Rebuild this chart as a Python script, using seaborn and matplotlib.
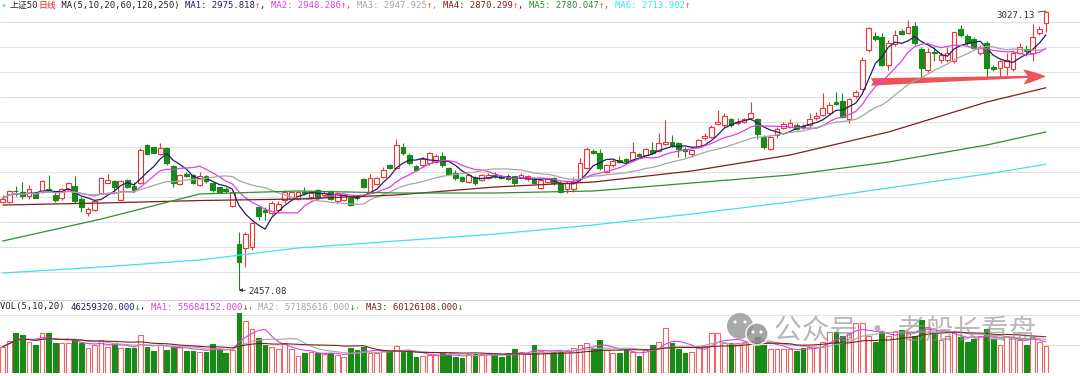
import numpy as np
import pandas as pd
import matplotlib
matplotlib.use("Agg")
import matplotlib.pyplot as plt
import seaborn as sns
from matplotlib.patches import Circle

# daily candles of 上证50, oldest first
opens = [2637, 2637, 2660, 2658, 2649, 2656, 2658, 2663, 2651, 2646,
         2663, 2670, 2644, 2614, 2620, 2655, 2676, 2680, 2642, 2682,
         2670, 2675, 2753, 2749, 2734, 2747, 2710, 2674, 2695, 2692,
         2672, 2690, 2675, 2667, 2664, 2629, 2551, 2542, 2544, 2626,
         2620, 2614, 2621, 2641, 2644, 2644, 2658, 2648, 2661, 2651,
         2659, 2638, 2641, 2646, 2647, 2683, 2658, 2674, 2687, 2712,
         2706, 2750, 2733, 2710, 2712, 2716, 2719, 2731, 2706, 2697,
         2687, 2678, 2687, 2682, 2685, 2692, 2690, 2690, 2689, 2687,
         2683, 2685, 2665, 2678, 2685, 2676, 2663, 2663, 2683, 2706,
         2742, 2738, 2699, 2712, 2723, 2724, 2723, 2735, 2733, 2744,
         2742, 2755, 2760, 2757, 2746, 2735, 2750, 2767, 2770, 2796,
         2794, 2806, 2798, 2801, 2808, 2806, 2770, 2746, 2774, 2789,
         2791, 2794, 2792, 2794, 2808, 2815, 2818, 2842, 2844, 2806,
         2853, 2867, 2947, 2976, 2975, 2917, 2960, 2987, 2983, 2996,
         2949, 2907, 2944, 2928, 2927, 2924, 2990, 2976, 2969, 2941,
         2961, 2913, 2910, 2913, 2908, 2942, 2950, 2941, 2982, 3003]
closes = [2644, 2659, 2659, 2649, 2663, 2646, 2680, 2661, 2641, 2663,
          2676, 2638, 2627, 2622, 2638, 2685, 2682, 2668, 2680, 2668,
          2661, 2743, 2735, 2738, 2747, 2716, 2675, 2692, 2690, 2675,
          2690, 2680, 2661, 2658, 2659, 2658, 2515, 2572, 2595, 2608,
          2617, 2634, 2633, 2658, 2657, 2658, 2656, 2656, 2646, 2656,
          2644, 2655, 2651, 2631, 2645, 2668, 2685, 2685, 2702, 2706,
          2753, 2736, 2716, 2702, 2724, 2736, 2731, 2712, 2695, 2685,
          2680, 2692, 2675, 2692, 2693, 2689, 2686, 2683, 2675, 2693,
          2690, 2676, 2682, 2683, 2676, 2658, 2675, 2678, 2717, 2746,
          2738, 2706, 2712, 2721, 2719, 2720, 2740, 2731, 2746, 2736,
          2757, 2760, 2753, 2746, 2742, 2743, 2763, 2772, 2791, 2801,
          2813, 2794, 2801, 2806, 2818, 2776, 2750, 2770, 2787, 2796,
          2799, 2787, 2790, 2806, 2813, 2828, 2835, 2838, 2811, 2847,
          2862, 2928, 2992, 2969, 2917, 2961, 2978, 2980, 2995, 2961,
          2910, 2944, 2941, 2937, 2942, 2984, 2978, 2961, 2951, 2953,
          2910, 2908, 2924, 2927, 2942, 2954, 2946, 2975, 2990, 3026]
highs = [2651, 2661, 2670, 2678, 2671, 2658, 2682, 2692, 2658, 2665,
         2678, 2689, 2648, 2626, 2641, 2687, 2694, 2682, 2682, 2683,
         2678, 2747, 2755, 2750, 2757, 2750, 2712, 2694, 2699, 2694,
         2699, 2692, 2678, 2668, 2667, 2660, 2576, 2576, 2597, 2629,
         2626, 2638, 2638, 2661, 2660, 2660, 2668, 2660, 2664, 2659,
         2662, 2658, 2654, 2650, 2650, 2685, 2695, 2688, 2709, 2714,
         2765, 2757, 2736, 2712, 2729, 2740, 2735, 2740, 2709, 2702,
         2689, 2695, 2690, 2695, 2697, 2699, 2693, 2695, 2691, 2697,
         2693, 2688, 2684, 2686, 2688, 2679, 2680, 2688, 2726, 2750,
         2746, 2746, 2714, 2724, 2731, 2727, 2760, 2738, 2748, 2760,
         2777, 2804, 2774, 2760, 2750, 2746, 2766, 2777, 2794, 2825,
         2818, 2809, 2808, 2809, 2842, 2808, 2774, 2774, 2791, 2801,
         2806, 2799, 2796, 2818, 2821, 2859, 2842, 2862, 2859, 2849,
         2866, 2934, 2995, 2985, 2982, 2968, 2988, 2990, 3009, 3005,
         2954, 2951, 2954, 2944, 2954, 2985, 2999, 2981, 2973, 2958,
         2965, 2917, 2927, 2941, 2948, 2962, 2958, 3001, 2996, 3027.13]
lows = [2634, 2635, 2649, 2644, 2644, 2645, 2656, 2658, 2636, 2642,
        2660, 2634, 2617, 2608, 2619, 2653, 2675, 2658, 2641, 2665,
        2658, 2674, 2733, 2736, 2733, 2712, 2668, 2672, 2687, 2673,
        2670, 2676, 2658, 2656, 2656, 2627, 2457.08, 2505, 2539, 2600,
        2600, 2610, 2615, 2634, 2641, 2642, 2651, 2645, 2642, 2648,
        2640, 2635, 2638, 2628, 2640, 2665, 2655, 2672, 2685, 2704,
        2704, 2733, 2713, 2700, 2709, 2712, 2717, 2709, 2692, 2682,
        2678, 2676, 2672, 2680, 2683, 2685, 2683, 2681, 2672, 2685,
        2680, 2673, 2663, 2675, 2672, 2655, 2656, 2658, 2679, 2704,
        2735, 2702, 2696, 2709, 2716, 2717, 2719, 2728, 2731, 2735,
        2740, 2753, 2750, 2729, 2729, 2729, 2748, 2763, 2767, 2794,
        2791, 2791, 2794, 2798, 2804, 2765, 2746, 2743, 2767, 2787,
        2789, 2784, 2787, 2791, 2804, 2813, 2815, 2835, 2808, 2799,
        2850, 2866, 2944, 2966, 2915, 2907, 2956, 2978, 2980, 2958,
        2886, 2903, 2924, 2920, 2923, 2920, 2975, 2958, 2947, 2937,
        2892, 2905, 2893, 2896, 2905, 2939, 2935, 2924, 2978, 2985]
# volume in millions of shares
volumes = [45.1, 55.5, 68.2, 65.3, 53.8, 48.0, 68.2, 68.2, 52.1, 52.1,
           50.9, 56.7, 50.9, 42.2, 48.0, 56.7, 45.1, 50.9, 42.2, 42.2,
           42.2, 65.3, 45.1, 38.2, 48.0, 39.3, 46.3, 44.0, 38.2, 38.2,
           36.5, 36.5, 49.7, 40.5, 33.6, 39.3, 102.9, 90.2, 75.2, 59.6,
           48.0, 45.1, 40.5, 50.9, 40.5, 29.0, 33.6, 36.5, 33.6, 32.4,
           33.6, 30.7, 26.6, 42.2, 40.0, 45.1, 33.6, 33.6, 38.2, 38.2,
           46.3, 36.5, 36.5, 26.6, 28.9, 30.7, 30.7, 33.6, 30.7, 26.6,
           24.9, 32.4, 32.4, 32.4, 32.4, 30.7, 27.8, 34.7, 40.5, 35.3,
           33.6, 48.0, 38.2, 33.6, 36.5, 36.5, 39.3, 42.2, 48.0, 50.9,
           42.2, 56.7, 39.3, 33.6, 33.6, 39.3, 36.5, 28.9, 39.3, 48.0,
           53.8, 76.9, 52.1, 40.5, 34.7, 36.5, 45.1, 46.0, 68.2, 68.2,
           50.9, 50.9, 52.1, 53.8, 53.8, 62.5, 48.0, 40.5, 40.5, 40.5,
           40.5, 38.2, 42.2, 45.1, 45.1, 53.8, 71.1, 71.1, 63.6, 68.2,
           86.7, 85.6, 63.6, 53.8, 71.1, 63.6, 72.9, 74.0, 68.2, 63.6,
           91.3, 79.8, 68.2, 56.7, 63.6, 71.1, 62.5, 53.8, 57.8, 63.6,
           75.2, 57.8, 48.0, 63.6, 62.5, 56.7, 48.0, 62.5, 53.8, 46.26]

# long moving averages need more history than shown, so read them off the chart
ma_long_idx = [0, 15, 30, 45, 60, 75, 90, 105, 120, 135, 150, 159]
ma60 = [2630.7, 2634.8, 2639.9, 2643.0, 2651.2, 2667.5, 2677.7, 2700.2, 2732.9, 2779.9, 2841.2, 2870.3]
ma120 = [2557.2, 2602.1, 2653.2, 2659.4, 2655.3, 2655.3, 2659.4, 2675.7, 2692.0, 2718.6, 2753.3, 2780.0]
ma250 = [2491.8, 2504.1, 2518.4, 2542.9, 2557.2, 2571.3, 2589.9, 2612.4, 2636.9, 2665.5, 2694.1, 2713.9]

RED = "#ee3434"
GREEN = "#178a17"
NAVY = "#1f1f66"
MAGENTA = "#e040e0"
GRAY = "#a6a6a6"
DARKRED = "#7d1f1f"
MGREEN = "#2f8f2f"
CYAN = "#3fe0f0"
TXT = "#222222"
UPARR = "#ff4a1a"

price_header = [("上证50", TXT), ("日线", "#e8231f"), (" MA(5,10,20,60,120,250) ", TXT),
                ("MA1: 2975.818", NAVY), ("↑", UPARR), (", ", NAVY),
                ("MA2: 2948.286", MAGENTA), ("↑", UPARR), (", ", MAGENTA),
                ("MA3: 2947.925", GRAY), ("↑", UPARR), (", ", GRAY),
                ("MA4: 2870.299", DARKRED), ("↑", UPARR), (", ", DARKRED),
                ("MA5: 2780.047", MGREEN), ("↑", UPARR), (", ", MGREEN),
                ("MA6: 2713.902", CYAN), ("↑", UPARR)]
vol_header = [("VOL(5,10,20) ", TXT), ("46259320.000", NAVY), ("↓", GREEN), (", ", NAVY),
              ("MA1: 55684152.000", MAGENTA), ("↓", GREEN), (", ", MAGENTA),
              ("MA2: 57185616.000", GRAY), ("↓", GREEN), (", ", GRAY),
              ("MA3: 60126108.000", DARKRED), ("↓", GREEN)]
watermark = "公众号 · 老船长看盘"

sns.set_theme(style="white")
plt.rcParams['font.family'] = ['DejaVu Sans Mono', 'Noto Sans CJK SC']


def build_frame():
    '''
    Put the candles in one frame and add the short moving averages.
    '''
    df = pd.DataFrame({"open": opens, "close": closes, "high": highs,
                       "low": lows, "vol": volumes})
    df["idx"] = np.arange(len(df))
    for n in (5, 10, 20):
        df[f"ma{n}"] = df["close"].rolling(n, min_periods=1).mean()
        df[f"vma{n}"] = df["vol"].rolling(n, min_periods=1).mean()
    return df


def clean_axes(ax):
    ax.set_xticks([])
    ax.set_yticks([])
    ax.set_xlabel("")
    ax.set_ylabel("")


def draw_price(ax, df):
    '''
    Candles plus the six moving averages.
    '''
    up = df["close"] >= df["open"]
    lo = df[["open", "close"]].min(axis=1)
    hi = df[["open", "close"]].max(axis=1)
    h = (hi - lo).clip(lower=0.8)
    u, d = df[up], df[~up]

    # red candles are hollow, so the wick stops at the body
    ax.vlines(u["idx"], u["low"], lo[up], color=RED, lw=0.8, zorder=2)
    ax.vlines(u["idx"], hi[up], u["high"], color=RED, lw=0.8, zorder=2)
    ax.vlines(d["idx"], d["low"], d["high"], color=GREEN, lw=0.8, zorder=2)
    ax.bar(u["idx"], h[up], bottom=lo[up], width=0.72, facecolor="white",
           edgecolor=RED, lw=0.8, zorder=3)
    ax.bar(d["idx"], h[~up], bottom=lo[~up], width=0.72, color=GREEN,
           edgecolor=GREEN, lw=0.8, zorder=3)

    for col, c in (("ma5", NAVY), ("ma10", MAGENTA), ("ma20", GRAY)):
        sns.lineplot(x=df["idx"], y=df[col], ax=ax, color=c, lw=0.9,
                     estimator=None, legend=False, zorder=4)
    for vals, c in ((ma60, DARKRED), (ma120, MGREEN), (ma250, CYAN)):
        sns.lineplot(x=ma_long_idx, y=vals, ax=ax, color=c, lw=0.9,
                     estimator=None, legend=False, zorder=4)

    # extreme price labels
    i_hi = int(df["high"].idxmax())
    i_lo = int(df["low"].idxmin())
    ax.annotate(f"{df['high'][i_hi]:.2f}", xy=(i_hi, df["high"][i_hi]),
                xytext=(-8, -3), textcoords="offset points", ha="right", va="center",
                fontsize=6.6, color="#333333",
                arrowprops=dict(arrowstyle="-", color="#333333", lw=0.6, shrinkA=0, shrinkB=0))
    ax.annotate(f"{df['low'][i_lo]:.2f}", xy=(i_lo, df["low"][i_lo]),
                xytext=(7, -1), textcoords="offset points", ha="left", va="center",
                fontsize=6.6, color="#333333",
                arrowprops=dict(arrowstyle="-|>,head_length=0.3,head_width=0.15", color="#333333",
                                lw=0.6, shrinkA=0, shrinkB=0))

    # the hand drawn red arrow
    ax.annotate("", xy=(159.4, 2894.0), xytext=(131.9, 2882.0),
                arrowprops=dict(arrowstyle="fancy,head_length=0.9,head_width=0.6,tail_width=0.3",
                                color="#ea4a4f", alpha=0.95, lw=0, mutation_scale=18))

    ax.set_xlim(-0.41, 164.2)
    ax.set_ylim(2442.8, 3049.6)
    for k in range(11):
        ax.axhline(3004.65 - 51.08 * k, color="#e2e2e2", lw=0.8, zorder=0)
    clean_axes(ax)
    for s in ax.spines.values():
        s.set_visible(False)


def draw_volume(ax, df):
    '''
    Volume bars with the 5/10/20 day averages.
    '''
    up = df["close"] >= df["open"]
    u, d = df[up], df[~up]
    ax.bar(u["idx"], u["vol"], width=0.72, facecolor="white", edgecolor="#f06464",
           lw=0.8, zorder=3)
    ax.bar(d["idx"], d["vol"], width=0.72, color=GREEN, edgecolor=GREEN, lw=0.8, zorder=3)
    for col, c in (("vma5", MAGENTA), ("vma10", GRAY), ("vma20", DARKRED)):
        sns.lineplot(x=df["idx"], y=df[col], ax=ax, color=c, lw=0.8,
                     estimator=None, legend=False, zorder=4)
    ax.set_xlim(-0.41, 164.2)
    ax.set_ylim(0, 126.0)
    for v in (48.0, 100.0):
        ax.axhline(v, color="#e2e2e2", lw=0.8, zorder=0)
    clean_axes(ax)
    for name, s in ax.spines.items():
        s.set_visible(name == "top")
    ax.spines["top"].set_color("#cfcfcf")
    ax.spines["top"].set_linewidth(0.8)


def chain_text(ov, x, y, parts, size):
    '''
    Write coloured pieces one after the other on a line.
    '''
    t = ov.text(x, y, parts[0][0], color=parts[0][1], fontsize=size, ha="left", va="center")
    for s, c in parts[1:]:
        t = ov.annotate(s, xy=(1, 0.5), xycoords=t, color=c, fontsize=size,
                        ha="left", va="center")
    return t


fig = plt.figure(figsize=(10.8, 3.76), dpi=100)
df = build_frame()

ax_p = fig.add_axes([0, 79 / 376, 1, 297 / 376])
ax_v = fig.add_axes([0, 3.3 / 376, 1, 72.7 / 376])
draw_price(ax_p, df)
draw_volume(ax_v, df)

# overlay in pixel units for headers and the watermark
ov = fig.add_axes([0, 0, 1, 1], zorder=10)
ov.set_xlim(0, 1080)
ov.set_ylim(376, 0)
ov.axis("off")
ov.patch.set_alpha(0)

ov.text(3.5, 5.5, "◆", color="#6fd0e6", fontsize=4.5, ha="center", va="center")
chain_text(ov, 10, 5.5, price_header, 6.4)
chain_text(ov, 0.5, 307, vol_header, 6.4)

# wechat style logo + account name
ov.add_patch(Circle((740, 326), 13, color="#8e8e8e", alpha=0.75, lw=0))
ov.add_patch(Circle((757, 334), 11, facecolor="#8e8e8e", edgecolor="white", alpha=0.8, lw=1.2))
for ex, ey in ((735, 322), (745, 322), (753, 332), (761, 332)):
    ov.add_patch(Circle((ex, ey), 1.6, color="white", lw=0))
ov.text(774, 331, watermark, fontsize=20, color="#8a8a8a", alpha=0.6,
        ha="left", va="center", family=["Noto Sans CJK SC", "DejaVu Sans"])

fig.savefig("out.png", dpi=100)
